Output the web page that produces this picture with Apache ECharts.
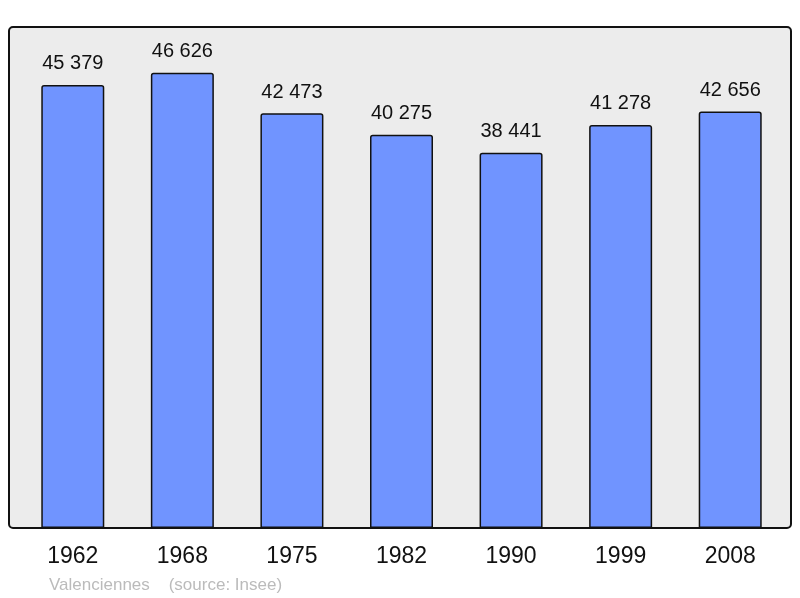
<!DOCTYPE html>
<html>
<head>
<meta charset="utf-8">
<script src="https://cdn.jsdelivr.net/npm/echarts@6/dist/echarts.min.js"></script>
<style>
html,body{margin:0;padding:0;background:#fff;}
#chart{width:800px;height:598px;}
</style>
</head>
<body>
<div id="chart"></div>
<script>
var years = ['1962', '1968', '1975', '1982', '1990', '1999', '2008'];
var population = [45379, 46626, 42473, 40275, 38441, 41278, 42656];
var footer = 'Valenciennes    (source: Insee)';

// "45 379" style
function fmt(v) {
	return String(v).replace(/\B(?=(\d{3})+(?!\d))/g, ' ');
}

var chart = echarts.init(document.getElementById('chart'));
var option = {
	animation: false,
	textStyle: {
		fontFamily: 'Liberation Sans, Arial, sans-serif'
	},
	title: {
		text: footer,
		left: 44,
		top: 572,
		textStyle: {
			color: '#bbbbbb',
			fontSize: 17,
			fontWeight: 'normal'
		}
	},
	graphic: [{
		type: 'rect',
		z: -10,
		shape: {x: 9, y: 27, width: 782, height: 501, r: 4},
		style: {fill: '#ececec', stroke: '#111', lineWidth: 2}
	}],
	grid: {
		left: 18,
		right: 15,
		top: 30,
		bottom: 70
	},
	xAxis: {
		type: 'category',
		data: years,
		axisLine: {show: false},
		axisTick: {show: false},
		axisLabel: {
			color: '#111',
			fontSize: 23,
			margin: 17
		}
	},
	yAxis: {
		type: 'value',
		min: 0,
		max: 51000,
		show: false,
		splitLine: {show: false}
	},
	series: [{
		type: 'bar',
		data: population,
		barWidth: 63,
		itemStyle: {
			color: '#7094ff',
			borderColor: '#111',
			borderWidth: 1.5,
			borderRadius: [2, 2, 0, 0]
		},
		label: {
			show: true,
			position: 'top',
			distance: 11,
			color: '#111',
			fontSize: 20,
			formatter: function (p) {
				return fmt(p.value);
			}
		}
	}]
};
chart.setOption(option);
</script>
</body>
</html>
